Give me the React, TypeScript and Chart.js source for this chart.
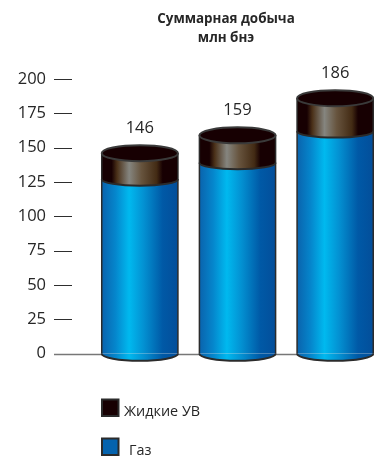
import React, { useEffect, useRef } from "react";
import { Chart, registerables } from "chart.js";

Chart.register(...registerables);

const years = ["2003", "2004", "2005"];
const gas = [127, 139, 162];
const liquids = [19, 20, 24];
const totals = [146, 159, 186];
const yTicks = [0, 25, 50, 75, 100, 125, 150, 175, 200];
const seriesNames = { gas: "Газ", liquids: "Жидкие УВ" };
const titleLines = ["Суммарная добыча", "млн бнэ"];

const FONT = '"Open Sans", sans-serif';
const INK = "#262626";
const OUTLINE = "#2b2b2b";
const DARK_CAP = "#170002";
const ELLIPSE_RY = 8;

function barGradient(ctx: CanvasRenderingContext2D, left: number, right: number, stops: [number, string][]) {
  const g = ctx.createLinearGradient(left, 0, right, 0);
  stops.forEach(([o, c]) => g.addColorStop(o, c));
  return g;
}

const gasStops: [number, string][] = [
  [0, "#0a63ad"],
  [0.18, "#0586cc"],
  [0.36, "#00b9ef"],
  [0.55, "#0391d2"],
  [0.8, "#0059a6"],
  [1, "#034e9a"],
];
const liquidStops: [number, string][] = [
  [0, DARK_CAP],
  [0.13, DARK_CAP],
  [0.2, "#4a3018"],
  [0.36, "#85857f"],
  [0.52, "#67543e"],
  [0.72, "#432b14"],
  [0.8, DARK_CAP],
  [1, DARK_CAP],
];

// Turns the flat stacked bars into cylinders and adds the hand-placed text blocks.
const cylinderPlugin = {
  id: "cylinders",
  beforeDatasetsDraw(chart: any) {
    const { ctx } = chart;
    chart.getDatasetMeta(0).data.forEach((bar: any) => {
      const left = bar.x - bar.width / 2;
      const right = bar.x + bar.width / 2;
      ctx.save();
      ctx.beginPath();
      ctx.ellipse(bar.x, bar.base, bar.width / 2, 7, 0, 0, Math.PI);
      ctx.fillStyle = barGradient(ctx, left, right, gasStops);
      ctx.fill();
      ctx.lineWidth = 2;
      ctx.strokeStyle = OUTLINE;
      ctx.stroke();
      ctx.restore();
    });
  },
  afterDatasetsDraw(chart: any) {
    const { ctx } = chart;
    const gasBars = chart.getDatasetMeta(0).data;
    const capBars = chart.getDatasetMeta(1).data;
    capBars.forEach((cap: any, i: number) => {
      const left = cap.x - cap.width / 2;
      const right = cap.x + cap.width / 2;
      const rx = cap.width / 2;
      const seam = gasBars[i].y;
      ctx.save();
      ctx.strokeStyle = OUTLINE;
      const capFill = barGradient(ctx, left, right, liquidStops);

      // liquids section with its lower rim curving over the gas section
      ctx.beginPath();
      ctx.moveTo(left, cap.y);
      ctx.lineTo(right, cap.y);
      ctx.lineTo(right, seam);
      ctx.ellipse(cap.x, seam, rx, ELLIPSE_RY * 0.8, 0, 0, Math.PI);
      ctx.closePath();
      ctx.fillStyle = capFill;
      ctx.fill();
      ctx.lineWidth = 2;
      ctx.beginPath();
      ctx.ellipse(cap.x, seam, rx, ELLIPSE_RY * 0.8, 0, 0, Math.PI);
      ctx.stroke();

      // side walls
      ctx.lineWidth = 1.5;
      ctx.beginPath();
      ctx.moveTo(left, cap.y);
      ctx.lineTo(left, gasBars[i].base);
      ctx.moveTo(right, cap.y);
      ctx.lineTo(right, gasBars[i].base);
      ctx.stroke();

      // top face
      ctx.beginPath();
      ctx.ellipse(cap.x, cap.y, rx, ELLIPSE_RY, 0, 0, Math.PI * 2);
      ctx.fillStyle = DARK_CAP;
      ctx.fill();
      ctx.lineWidth = 2;
      ctx.strokeStyle = "#3a3a3a";
      ctx.stroke();

      // value above the cylinder
      ctx.fillStyle = INK;
      ctx.font = `16.5px ${FONT}`;
      ctx.textAlign = "center";
      ctx.textBaseline = "middle";
      ctx.fillText(String(totals[i]), cap.x, cap.y - 25);
      ctx.restore();
    });
  },
  beforeDraw(chart: any) {
    const { ctx, scales } = chart;
    const yScale = scales.y;
    ctx.save();
    ctx.lineWidth = 1;
    // short dashes next to the value labels, and the long baseline at zero
    yScale.ticks.forEach((t: any) => {
      const py = Math.round(yScale.getPixelForValue(t.value)) + 0.5;
      ctx.strokeStyle = t.value === 0 ? "#777777" : "#2e2e2e";
      ctx.lineWidth = t.value === 0 ? 1.5 : 1;
      ctx.beginPath();
      ctx.moveTo(54, py);
      ctx.lineTo(t.value === 0 ? 374 : 72, py);
      ctx.stroke();
    });

    // heading
    ctx.fillStyle = INK;
    ctx.font = `bold 13.4px ${FONT}`;
    ctx.textAlign = "center";
    ctx.textBaseline = "middle";
    ctx.fillText(titleLines[0], 226, 19);
    ctx.fillText(titleLines[1], 226, 38);

    // legend
    const entries = [
      { name: seriesNames.liquids, color: DARK_CAP, y: 399.5, tx: 124, mid: 412 },
      { name: seriesNames.gas, color: "#0563ae", y: 438.5, tx: 129, mid: 451 },
    ];
    entries.forEach((e) => {
      ctx.fillStyle = e.color;
      ctx.strokeStyle = OUTLINE;
      ctx.lineWidth = 2;
      ctx.fillRect(102, e.y, 16.5, 16.5);
      ctx.strokeRect(102, e.y, 16.5, 16.5);
      ctx.fillStyle = INK;
      ctx.font = `14.4px ${FONT}`;
      ctx.textBaseline = "middle";
      ctx.textAlign = "left";
      ctx.fillText(e.name, e.tx, e.mid);
    });
    ctx.restore();
  },
};

export default function App() {
  const ref = useRef<HTMLCanvasElement>(null);

  useEffect(() => {
    document.body.style.margin = "0";
    const chart = new Chart(ref.current!, {
      type: "bar",
      data: {
        labels: years,
        datasets: [
          {
            label: seriesNames.gas,
            data: gas,
            backgroundColor: (c: any) => {
              const a = c.chart.chartArea;
              if (!a) return "#0563ae";
              const w = (a.width / 3) * 0.78;
              const cx = c.chart.scales.x.getPixelForValue(c.dataIndex);
              return barGradient(c.chart.ctx, cx - w / 2, cx + w / 2, gasStops);
            },
          },
          {
            label: seriesNames.liquids,
            data: liquids,
            backgroundColor: (c: any) => {
              const a = c.chart.chartArea;
              if (!a) return DARK_CAP;
              const w = (a.width / 3) * 0.78;
              const cx = c.chart.scales.x.getPixelForValue(c.dataIndex);
              return barGradient(c.chart.ctx, cx - w / 2, cx + w / 2, liquidStops);
            },
          },
        ],
      },
      options: {
        responsive: false,
        animation: false,
        layout: { padding: { top: 79, bottom: 80, left: 0, right: 0 } },
        datasets: { bar: { barPercentage: 1, categoryPercentage: 0.78, borderWidth: 0 } },
        plugins: { legend: { display: false }, title: { display: false }, tooltip: { enabled: false } },
        scales: {
          x: {
            stacked: true,
            grid: { display: false },
            border: { display: false },
            afterFit: (s: any) => { s.height = 23.3; },
            ticks: { color: INK, font: { family: FONT, size: 16.5 }, padding: 13, maxRotation: 0 },
          },
          y: {
            stacked: true,
            min: 0,
            max: 200,
            afterBuildTicks: (s: any) => { s.ticks = yTicks.map((value) => ({ value })); },
            afterFit: (s: any) => { s.width = 91; },
            grid: { display: false, drawTicks: false, tickLength: 0 },
            border: { display: false },
            ticks: { color: INK, font: { family: FONT, size: 16.5 }, padding: 45 },
          },
        },
      },
      plugins: [cylinderPlugin],
    } as any);
    return () => chart.destroy();
  }, []);

  return (
    <div style={{ width: 374, height: 457, overflow: "hidden" }}>
      <canvas ref={ref} width={384} height={457} style={{ display: "block" }} />
    </div>
  );
}
